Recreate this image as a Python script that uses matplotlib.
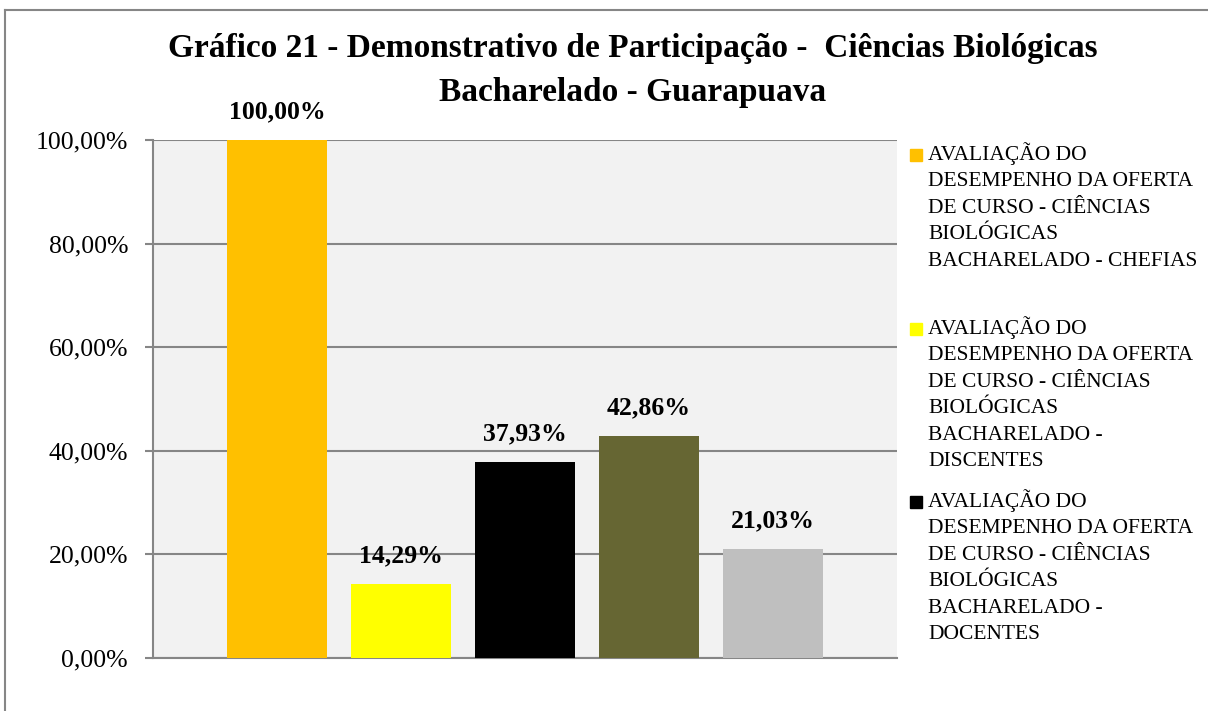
import matplotlib.pyplot as plt
from matplotlib.patches import Rectangle
from matplotlib.lines import Line2D

# Data
values = [100.00, 14.29, 37.93, 42.86, 21.03]
colors = ["#FFC000", "#FFFF00", "#000000", "#666633", "#BFBFBF"]
legend_labels = [
    "AVALIAÇÃO DO\nDESEMPENHO DA OFERTA\nDE CURSO - CIÊNCIAS\nBIOLÓGICAS\nBACHARELADO - CHEFIAS",
    "AVALIAÇÃO DO\nDESEMPENHO DA OFERTA\nDE CURSO - CIÊNCIAS\nBIOLÓGICAS\nBACHARELADO -\nDISCENTES",
    "AVALIAÇÃO DO\nDESEMPENHO DA OFERTA\nDE CURSO - CIÊNCIAS\nBIOLÓGICAS\nBACHARELADO -\nDOCENTES",
]
yticks = [0, 20, 40, 60, 80, 100]
title_lines = ["Gráfico 21 - Demonstrativo de Participação -  Ciências Biológicas",
               "Bacharelado - Guarapuava"]

plt.rcParams["font.family"] = ["Liberation Serif", "DejaVu Serif"]

W, H = 1208, 711
fig = plt.figure(figsize=(W / 100, H / 100), dpi=100)
fig.patch.set_facecolor("white")

# Plot area in pixel coordinates from the reference
left, right, top, bottom = 153, 897, 140, 658
ax = fig.add_axes([left / W, 1 - bottom / H, (right - left) / W, (bottom - top) / H])
ax.set_facecolor("#F2F2F2")

x = list(range(len(values)))
ax.bar(x, values, width=0.8, color=colors, zorder=3)
ax.set_xlim(-1, 5)
ax.set_ylim(0, 100)

ax.set_yticks(yticks)
ax.set_yticklabels([f"{v:.2f}".replace(".", ",") + "%" for v in yticks], fontsize=18.5)
ax.set_xticks([])
ax.yaxis.grid(True, color="#868686", linewidth=1.5, zorder=1)
ax.tick_params(axis="y", length=6, width=1.5, color="#868686", pad=12)
for side in ["top", "right"]:
    ax.spines[side].set_visible(False)
for side in ["left", "bottom"]:
    ax.spines[side].set_color("#868686")
    ax.spines[side].set_linewidth(1.5)

for xi, v in zip(x, values):
    ax.annotate(f"{v:.2f}".replace(".", ",") + "%", (xi, v), xytext=(0, 12),
                textcoords="offset points", ha="center", va="bottom",
                fontsize=18.5, fontweight="bold", zorder=4)

# Title, one text per line
for ty, line in zip([48, 92], title_lines):
    fig.text(633 / W, 1 - ty / H, line, ha="center", va="center", fontsize=24,
             fontweight="bold")

# Legend drawn by hand (only the visible entries)
entry_top = [153, 327, 500]
for lab, col, ty in zip(legend_labels, colors, entry_top):
    fig.add_artist(Rectangle((910 / W, 1 - (ty + 8) / H), 12 / W, 12 / H,
                             transform=fig.transFigure, color=col))
    fig.text(928 / W, 1 - (ty - 11) / H, lab, ha="left", va="top", fontsize=15.5,
             linespacing=1.53)

# Outer chart border (cropped on right and bottom)
fig.add_artist(Line2D([5 / W, 5 / W], [0, 1 - 10 / H], transform=fig.transFigure,
                      color="#868686", linewidth=1.5))
fig.add_artist(Line2D([5 / W, 1], [1 - 10 / H, 1 - 10 / H], transform=fig.transFigure,
                      color="#868686", linewidth=1.5))

fig.savefig("out.png", dpi=100)
